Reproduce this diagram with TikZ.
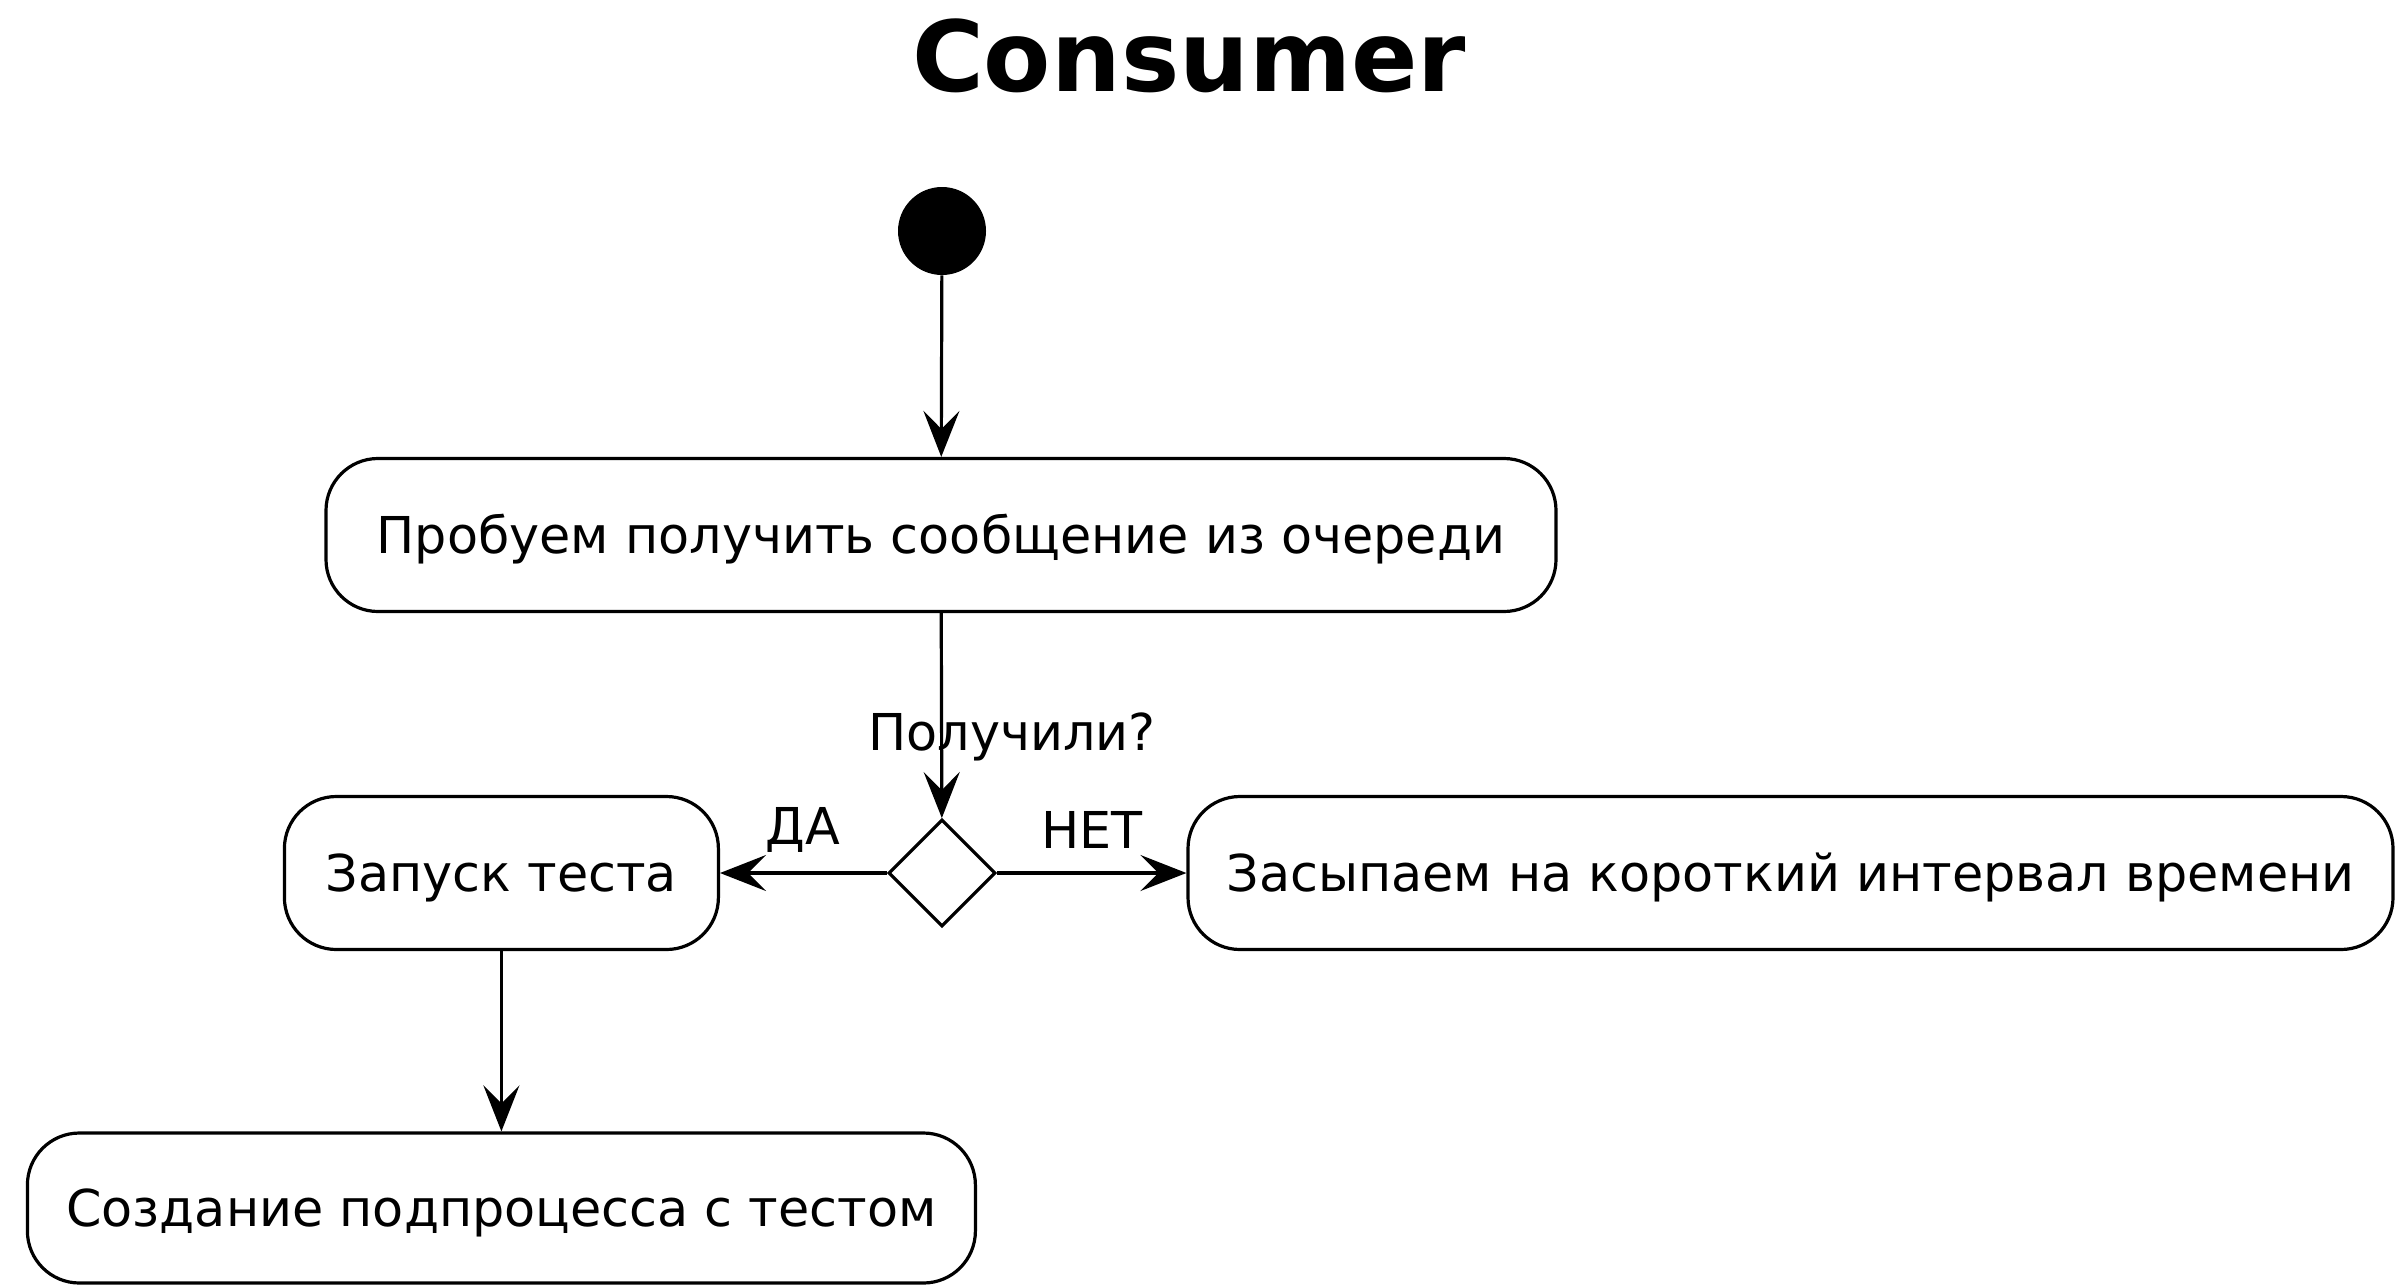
\documentclass[tikz,border=0pt]{standalone}
\usepackage{fontspec}
\setmainfont{DejaVu Sans}
\usetikzlibrary{arrows.meta,shapes.geometric}
\begin{document}
\begin{tikzpicture}[x=0.5pt,y=-0.5pt,
  act/.style={draw, rounded corners=26pt, inner sep=0pt, line width=1.6pt,
              text height=24pt, text depth=6pt,
              font=\fontsize{25.4}{30}\selectfont},
  lbl/.style={inner sep=0pt, font=\fontsize{25.4}{30}\selectfont},
  flow/.style={-{Stealth[length=23pt,width=18pt,inset=9pt]}, line width=1.6pt}
]
\useasboundingbox (0,0) rectangle (2397,1285);

% title
\node[inner sep=0pt, font=\fontsize{49}{58}\selectfont\bfseries] (title) at (1189,56) {Consumer};

% initial state
\node[circle, fill=black, minimum size=44pt, inner sep=0pt] (start) at (942,231) {};

% activities
\node[act, minimum width=615pt, minimum height=76.5pt] (fetch) at (941,535)
  {Пробуем получить сообщение из очереди};
\node[draw, diamond, line width=1.6pt, minimum width=53.5pt, minimum height=53.5pt,
      inner sep=0pt] (dec) at (942,873) {};
\node[act, minimum width=217pt, minimum height=76.5pt] (launch) at (501.4,873)
  {Запуск теста};
\node[act, minimum width=602.5pt, minimum height=76.5pt] (sleep) at (1790.5,873)
  {Засыпаем на короткий интервал времени};
\node[act, minimum width=474pt, minimum height=75pt] (spawn) at (501.4,1208)
  {Создание подпроцесса с тестом};

% guard labels
\node[lbl] (qlbl) at (1012,737) {Получили?};
\node[lbl] (yes) at (803,830) {ДА};
\node[lbl] (no) at (1092,830) {НЕТ};

% control flow
\draw[flow] (start) -- (fetch);
\draw[flow] (fetch) -- (dec);
\draw[flow] (dec) -- (launch);
\draw[flow] (dec) -- (sleep);
\draw[flow] (launch) -- (spawn);
\end{tikzpicture}
\end{document}
